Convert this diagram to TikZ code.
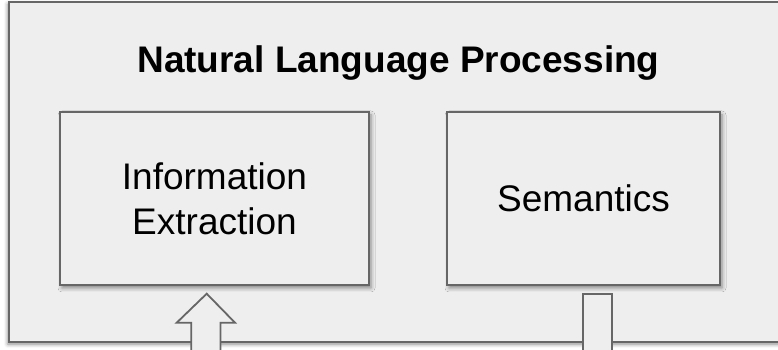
\documentclass[tikz,border=0pt]{standalone}
\usepackage{fontspec}
\setmainfont{Liberation Sans}
\usepackage{xcolor}
\usepackage{tikz}
\usetikzlibrary{positioning, calc, shadows.blur}
\definecolor{boxgray}{HTML}{666666}
\definecolor{panelgray}{HTML}{EEEEEE}

\begin{document}
\begin{tikzpicture}[x=1pt, y=1pt,
    panel/.style={draw=boxgray, fill=panelgray, line width=1.8pt, inner sep=0pt},
    topicbox/.style={panel, align=center, font=\fontsize{37}{45}\selectfont,
      blur shadow={shadow xshift=2pt, shadow yshift=-3pt, shadow blur radius=4pt, shadow opacity=45}},
    blockarrow/.style={draw=boxgray, fill=panelgray, line width=1.8pt, line join=miter}]
  \useasboundingbox (0,0) rectangle (778,350);
  % outer area
  \node[panel, anchor=south west, minimum width=782pt, minimum height=340pt,
        blur shadow={shadow xshift=-1pt, shadow yshift=-2pt, shadow blur radius=4pt, shadow opacity=45}]
        (nlp) at (8,7) {};
  \node[anchor=base, font=\fontsize{37}{44}\selectfont\bfseries] (title) at (398.5,277.3)
        {Natural Language Processing};
  % the two topics
  \node[topicbox, minimum width=309pt, minimum height=173pt] (infoext) at (214.5,151.5)
        {Information\\Extraction};
  \node[topicbox, minimum width=273pt, minimum height=173pt] (sem) at (583.5,151.5)
        {Semantics};
  % block arrows entering from below
  \coordinate (intip) at ($(infoext.south)+(-7.8,-7.8)$);
  \draw[blockarrow] (intip) -- ++(28.3,-29) -- ++(-14.5,0) -- ++(0,-40)
        -- ++(-29.3,0) -- ++(0,40) -- ++(-14.5,0) -- cycle;
  \coordinate (outtop) at ($(sem.south)+(14,-7.8)$);
  \draw[blockarrow] ($(outtop)+(-14.2,0)$) rectangle ($(outtop)+(14.2,-70)$);
\end{tikzpicture}
\end{document}
